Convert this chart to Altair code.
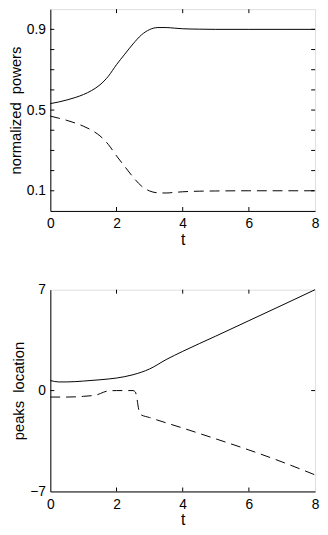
import altair as alt
import pandas as pd

# ---- data ----
t_pow = [0, 0.25, 0.5, 0.75, 1.0, 1.25, 1.5, 1.75, 2.0, 2.25, 2.5, 2.75, 3.0,
         3.25, 3.5, 3.75, 4.0, 4.5, 5.0, 6.0, 7.0, 8.0]
pow_solid = [0.532, 0.540, 0.550, 0.562, 0.577, 0.597, 0.625, 0.667, 0.725, 0.777,
             0.828, 0.872, 0.899, 0.909, 0.909, 0.906, 0.903, 0.901, 0.900, 0.900,
             0.900, 0.900]
pow_dashed = [0.470, 0.460, 0.449, 0.436, 0.420, 0.400, 0.372, 0.330, 0.273, 0.220,
              0.168, 0.124, 0.099, 0.090, 0.089, 0.092, 0.095, 0.098, 0.099, 0.100,
              0.100, 0.100]

t_loc_solid = [0, 0.25, 0.5, 1.0, 1.5, 2.0, 2.5, 3.0, 3.5, 4.0, 5.0, 6.0, 7.0, 8.0]
loc_solid = [0.70, 0.60, 0.60, 0.66, 0.75, 0.87, 1.10, 1.50, 2.15, 2.72, 3.78,
             4.85, 5.92, 7.00]
t_loc_dashed = [0, 0.5, 1.0, 1.4, 1.6, 1.75, 2.0, 2.5, 2.57, 2.62, 2.67, 2.72, 3.0,
                4.0, 5.0, 6.0, 7.0, 8.0]
loc_dashed = [-0.45, -0.45, -0.40, -0.30, -0.12, -0.02, 0.0, 0.0, -0.10, -0.60,
              -1.30, -1.65, -1.87, -2.60, -3.35, -4.12, -4.95, -5.85]

x_labels = [0, 2, 4, 6, 8]
x_inner_ticks = [2, 4, 6]
pow_labels = [0.1, 0.5, 0.9]
pow_minor = [0.1, 0.2, 0.3, 0.4, 0.5, 0.6, 0.7, 0.8, 0.9]
loc_labels = [-7, 0, 7]
loc_minor = [0]

W, H = 269, 205
TK = 4
FONT = "Liberation Sans"
DASH = [10, 6]


def panel(ts, ys, td, yd, ydomain, ylabels, yfmt, yminor, ytitle, title_x):
    xs = alt.Scale(domain=[0, 8], nice=False, zero=False)
    yscale = alt.Scale(domain=ydomain, nice=False, zero=False)
    xaxis = alt.Axis(values=x_labels, format="d", ticks=False, grid=False,
                     domainColor="black", domainWidth=1, labelFont=FONT,
                     labelFontSize=14, labelColor="black", labelPadding=6,
                     labelFlush=False, title="t", titleFont=FONT,
                     titleFontSize=16, titleFontWeight="normal",
                     titleColor="black", titleY=34, titleBaseline="alphabetic")
    yaxis = alt.Axis(values=ylabels, format=yfmt, ticks=False, grid=False,
                     domainColor="black", domainWidth=1, labelFont=FONT,
                     labelFontSize=14, labelColor="black", labelPadding=5,
                     labelFlush=False, title=ytitle, titleFont=FONT,
                     titleFontSize=15, titleFontWeight="normal",
                     titleColor="black", titleX=title_x,
                     titleBaseline="alphabetic")

    d_s = pd.DataFrame({"t": ts, "v": ys})
    d_d = pd.DataFrame({"t": td, "v": yd})
    solid = alt.Chart(d_s).mark_line(color="black", strokeWidth=1,
                                     interpolate="monotone").encode(
        x=alt.X("t:Q", scale=xs, axis=xaxis),
        y=alt.Y("v:Q", scale=yscale, axis=yaxis),
    )
    dashed = alt.Chart(d_d).mark_line(color="black", strokeWidth=1,
                                      strokeDash=DASH,
                                      interpolate="monotone").encode(
        x=alt.X("t:Q", scale=xs),
        y=alt.Y("v:Q", scale=yscale),
    )
    dx = pd.DataFrame({"t": x_inner_ticks})
    dy = pd.DataFrame({"v": yminor})
    tick_style = dict(color="black", strokeWidth=1)
    top_t = alt.Chart(dx).mark_rule(**tick_style).encode(
        x=alt.X("t:Q", scale=xs), y=alt.value(0), y2=alt.value(TK))
    bot_t = alt.Chart(dx).mark_rule(**tick_style).encode(
        x=alt.X("t:Q", scale=xs), y=alt.value(H - TK), y2=alt.value(H))
    left_t = alt.Chart(dy).mark_rule(**tick_style).encode(
        y=alt.Y("v:Q", scale=yscale), x=alt.value(0), x2=alt.value(TK))
    right_t = alt.Chart(dy).mark_rule(**tick_style).encode(
        y=alt.Y("v:Q", scale=yscale), x=alt.value(W - TK), x2=alt.value(W))
    return alt.layer(solid, dashed, top_t, bot_t, left_t, right_t).properties(
        width=W, height=H)


top = panel(t_pow, pow_solid, t_pow, pow_dashed, [0, 1], pow_labels, ".1f",
            pow_minor, "normalized\u00a0\u00a0powers", -30)
bottom = panel(t_loc_solid, loc_solid, t_loc_dashed, loc_dashed, [-7, 7],
               loc_labels, "d", loc_minor, "peaks\u00a0\u00a0location", -27.5)

chart = alt.vconcat(top, bottom, spacing=34).properties(
    padding={"left": 0, "top": -4, "right": 0, "bottom": 0}
).configure_view(stroke="black", strokeWidth=1).configure(background="white")

chart.save("out.html", embed_options={"renderer": "svg", "actions": False})
